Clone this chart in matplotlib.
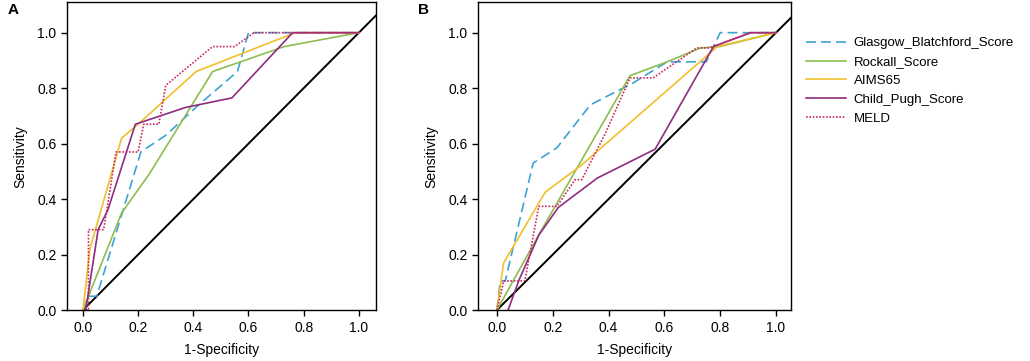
import matplotlib
matplotlib.use("Agg")
import matplotlib.pyplot as plt

plt.rcParams['font.family'] = ['Liberation Sans', 'DejaVu Sans']
plt.rcParams['font.size'] = 10

names = ["Glasgow_Blatchford_Score", "Rockall_Score", "AIMS65", "Child_Pugh_Score", "MELD"]
colors = ["#3da3d6", "#8dbd4f", "#f0c02c", "#8e2c80", "#c8285e"]
styles = [(0, (6, 3)), "-", "-", "-", (0, (1, 1))]

# panel A (fpr, tpr)
a_gbs_x = [0.0, 0.02, 0.05, 0.21, 0.30, 0.42, 0.56, 0.60, 0.65, 1.0]
a_gbs_y = [0.0, 0.05, 0.05, 0.57, 0.63, 0.74, 0.86, 1.0, 1.0, 1.0]
a_rock_x = [0.0, 0.14, 0.24, 0.47, 0.73, 1.0]
a_rock_y = [0.0, 0.35, 0.49, 0.86, 0.95, 1.0]
a_aims_x = [0.0, 0.025, 0.14, 0.20, 0.41, 0.77, 1.0]
a_aims_y = [0.0, 0.22, 0.62, 0.67, 0.86, 1.0, 1.0]
a_cp_x = [0.01, 0.055, 0.09, 0.19, 0.37, 0.54, 0.76, 1.0]
a_cp_y = [0.0, 0.29, 0.36, 0.67, 0.73, 0.765, 1.0, 1.0]
a_meld_x = [0.01, 0.02, 0.02, 0.075, 0.12, 0.20, 0.22, 0.275, 0.30, 0.47, 0.55, 0.62, 1.0]
a_meld_y = [0.0, 0.0, 0.29, 0.29, 0.57, 0.57, 0.67, 0.67, 0.81, 0.95, 0.95, 1.0, 1.0]

# panel B
b_gbs_x = [0.0, 0.012, 0.03, 0.13, 0.215, 0.335, 0.49, 0.61, 0.75, 0.80, 1.0]
b_gbs_y = [0.0, 0.105, 0.105, 0.53, 0.585, 0.74, 0.82, 0.895, 0.895, 1.0, 1.0]
b_rock_x = [0.0, 0.155, 0.477, 0.61, 0.73, 0.80, 1.0]
b_rock_y = [0.0, 0.28, 0.845, 0.895, 0.945, 0.95, 1.0]
b_aims_x = [0.0, 0.024, 0.173, 0.30, 0.79, 1.0]
b_aims_y = [0.0, 0.17, 0.425, 0.52, 0.95, 1.0]
b_cp_x = [0.04, 0.08, 0.15, 0.22, 0.36, 0.567, 0.776, 0.91, 1.0]
b_cp_y = [0.0, 0.11, 0.27, 0.37, 0.476, 0.58, 0.95, 1.0, 1.0]
b_meld_x = [0.0, 0.012, 0.024, 0.10, 0.15, 0.215, 0.28, 0.304, 0.39, 0.477, 0.56, 0.716, 0.76, 0.907, 1.0]
b_meld_y = [0.0, 0.05, 0.105, 0.105, 0.374, 0.374, 0.47, 0.47, 0.64, 0.837, 0.837, 0.945, 0.945, 1.0, 1.0]

panel_a = [(a_gbs_x, a_gbs_y), (a_rock_x, a_rock_y), (a_aims_x, a_aims_y), (a_cp_x, a_cp_y), (a_meld_x, a_meld_y)]
panel_b = [(b_gbs_x, b_gbs_y), (b_rock_x, b_rock_y), (b_aims_x, b_aims_y), (b_cp_x, b_cp_y), (b_meld_x, b_meld_y)]

fig = plt.figure(figsize=(10.3, 3.61), dpi=100)
ax_a = fig.add_axes([0.065, 0.141, 0.300, 0.853])
ax_b = fig.add_axes([0.464, 0.141, 0.304, 0.853])

for ax, data, letter, xl in [(ax_a, panel_a, "A", (-0.058, 1.062)), (ax_b, panel_b, "B", (-0.068, 1.054))]:
    ax.axline((0, 0), slope=1, color="black", lw=1.4, zorder=1)
    for (x, y), c, ls, n in zip(data, colors, styles, names):
        ax.plot(x, y, color=c, ls=ls, lw=1.2, label=n, zorder=2)
    ax.set_xlim(*xl)
    ax.set_ylim(0, 1.11)
    ax.set_xticks([0, 0.2, 0.4, 0.6, 0.8, 1.0])
    ax.set_yticks([0, 0.2, 0.4, 0.6, 0.8, 1.0])
    ax.set_xticklabels(["0.0", "0.2", "0.4", "0.6", "0.8", "1.0"])
    ax.set_yticklabels(["0.0", "0.2", "0.4", "0.6", "0.8", "1.0"])
    ax.set_xlabel("1-Specificity", labelpad=6)
    ax.set_ylabel("Sensitivity", labelpad=7)
    for s in ax.spines.values():
        s.set_linewidth(1.0)
    ax.tick_params(length=4, width=1.0)
    fig.text(ax.get_position().x0 - 0.058, 0.962, letter, fontweight="bold", fontsize=11)

ax_b.legend(loc="upper left", bbox_to_anchor=(0.771, 0.93), bbox_transform=fig.transFigure,
            frameon=False, handlelength=3.0, handletextpad=0.6, labelspacing=0.5, fontsize=9.5)

fig.savefig("out.png", dpi=100)
